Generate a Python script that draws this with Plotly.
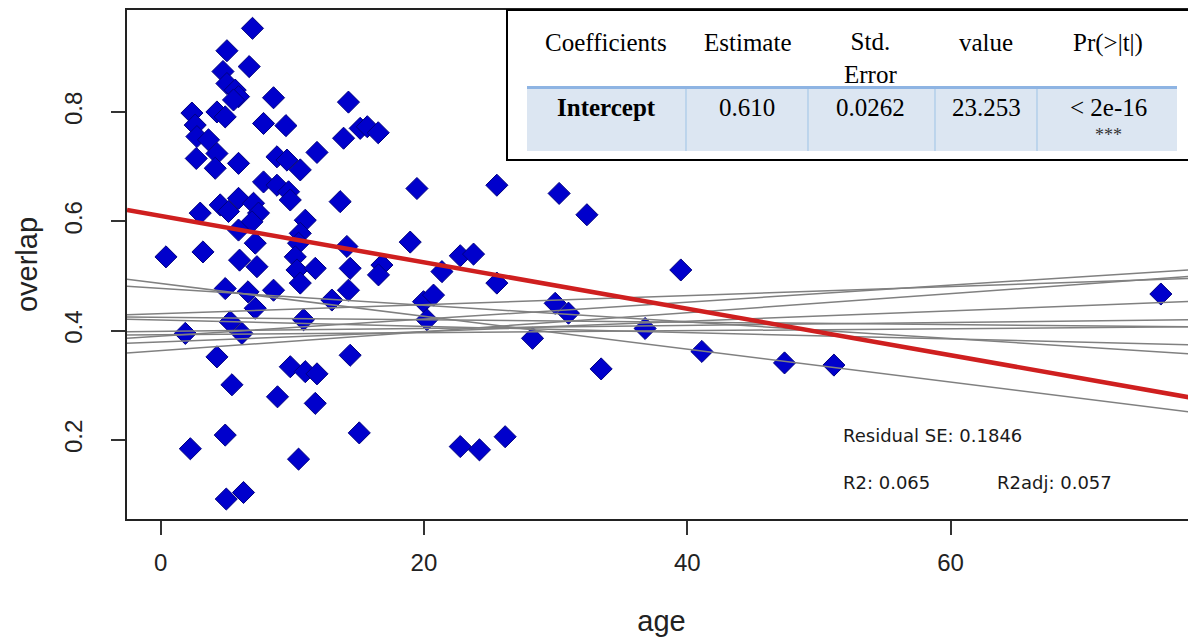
import plotly.graph_objects as go

# scatter data
AGE = [6.98, 5.04, 6.73, 4.74, 5.04, 5.67, 5.92, 5.54, 8.58, 14.27,
       2.38, 4.28, 4.91, 2.63, 7.82, 9.52, 2.76, 3.64, 13.90, 15.16,
       15.70, 2.71, 4.28, 5.92, 4.15, 8.84, 9.60, 11.88, 10.61, 7.82,
       8.84, 9.72, 9.85, 5.92, 4.53, 5.16, 7.06, 7.44, 13.64, 3.01,
       10.99, 10.61, 6.94, 5.92, 7.19, 0.41, 3.22, 6.00, 7.32, 10.48,
       10.23, 10.36, 11.75, 10.61, 14.15, 14.40, 14.27, 4.91, 6.64, 8.58,
       7.19, 13.01, 5.29, 10.86, 1.88, 6.18, 4.28, 14.40, 9.85, 10.99,
       11.88, 5.42, 8.88, 11.75, 15.09, 4.91, 2.26, 10.48, 6.30, 4.99,
       19.47, 25.54, 30.27, 32.38, 18.96, 22.76, 23.77, 16.81, 16.55, 21.37,
       25.54, 39.51, 19.97, 20.73, 29.97, 30.98, 20.23, 36.80, 28.25, 41.11,
       33.46, 22.76, 24.22, 26.17, 47.39, 51.14, 75.97, 16.53]
OVERLAP = [0.953, 0.912, 0.883, 0.874, 0.852, 0.840, 0.828, 0.822, 0.826, 0.818,
           0.798, 0.800, 0.791, 0.776, 0.779, 0.775, 0.755, 0.749, 0.752, 0.770,
           0.773, 0.715, 0.724, 0.706, 0.697, 0.718, 0.712, 0.726, 0.694, 0.672,
           0.666, 0.654, 0.639, 0.642, 0.630, 0.618, 0.633, 0.615, 0.636, 0.615,
           0.602, 0.578, 0.599, 0.584, 0.560, 0.535, 0.544, 0.529, 0.517, 0.560,
           0.535, 0.511, 0.514, 0.487, 0.554, 0.514, 0.474, 0.477, 0.471, 0.474,
           0.441, 0.456, 0.416, 0.420, 0.395, 0.395, 0.352, 0.355, 0.334, 0.325,
           0.321, 0.301, 0.279, 0.267, 0.213, 0.209, 0.184, 0.165, 0.104, 0.092,
           0.660, 0.666, 0.651, 0.612, 0.562, 0.537, 0.540, 0.520, 0.502, 0.508,
           0.487, 0.511, 0.453, 0.465, 0.450, 0.432, 0.420, 0.404, 0.386, 0.362,
           0.330, 0.188, 0.182, 0.206, 0.341, 0.337, 0.467, 0.762]

# fitted line and the grey resampled fits (intercept at age 0, slope per year)
FIT_INTERCEPT = 0.610
FIT_SLOPE = -0.00425
GRAY_INTERCEPT = [0.4863, 0.4771, 0.4311, 0.4244, 0.4195, 0.3987, 0.3925, 0.3900, 0.3794, 0.3634]
GRAY_SLOPE = [-0.003005, -0.001527, 0.000825, -0.000222, -0.000579, 0.000271, 0.000185, 0.001552, 0.000948, 0.001737]

# axes
X_RANGE = [-2.55, 78.64]
Y_RANGE = [0.0555, 0.9865]
X_TICKS = [0, 20, 40, 60]
Y_TICKS = [0.2, 0.4, 0.6, 0.8]

# coefficient table
TABLE_HEADER = ["Coefficients", "Estimate", "Std.<br>Error", "value", "Pr(>|t|)"]
TABLE_ROW = ["<b>Intercept</b>", "0.610", "0.0262", "23.253", "< 2e-16"]
TABLE_SIG = "***"

STATS = ["Residual SE: 0.1846", "R2: 0.065", "R2adj: 0.057"]

# page has an 8px body margin, so the figure is a bit smaller than the window
OFF = 8
FIG_W, FIG_H = 1196 - OFF, 641 - OFF
# plot area in window pixels
L, R, T, B = 127, 1196, 10, 519


def px(x):
    return (x - L) / (R - L)


def py(y):
    return (B - y) / (B - T)


fig = go.Figure()
fig.add_trace(go.Scatter(x=AGE, y=OVERLAP, mode="markers",
                         marker=dict(symbol="diamond", size=17, color="#0000cc",
                                     line=dict(color="#000080", width=1))))
for b0, b1 in zip(GRAY_INTERCEPT, GRAY_SLOPE):
    fig.add_trace(go.Scatter(x=X_RANGE, y=[b0 + b1 * x for x in X_RANGE], mode="lines",
                             line=dict(color="#808080", width=1.5)))
fig.add_trace(go.Scatter(x=X_RANGE, y=[FIT_INTERCEPT + FIT_SLOPE * x for x in X_RANGE], mode="lines",
                         line=dict(color="#cf1f1f", width=4.5)))

# table box and row shading
shapes = [
    dict(type="rect", xref="paper", yref="paper", x0=px(507), x1=px(1189), y0=py(160), y1=py(10),
         line=dict(color="black", width=2), fillcolor="white", layer="above"),
    dict(type="rect", xref="paper", yref="paper", x0=px(527), x1=px(1177), y0=py(151), y1=py(88),
         line=dict(width=0), fillcolor="#dce6f2", layer="above"),
    dict(type="line", xref="paper", yref="paper", x0=px(527), x1=px(1177), y0=py(87.5), y1=py(87.5),
         line=dict(color="#8eb4e3", width=3), layer="above"),
]
for xs in [686, 808, 935, 1037]:
    shapes.append(dict(type="line", xref="paper", yref="paper", x0=px(xs), x1=px(xs), y0=py(151), y1=py(89),
                       line=dict(color="#9dc3e6", width=1), layer="above"))

serif = "Liberation Serif, Times New Roman, serif"
annotations = []
col_centers = [606, 747, 870, 986, 1108]
for cx, txt in zip(col_centers, TABLE_HEADER):
    cy = 58 if "<br>" in txt else 43
    annotations.append(dict(x=px(cx), y=py(cy), xref="paper", yref="paper", text=txt, showarrow=False,
                            xanchor="center", yanchor="middle",
                            font=dict(family=serif, size=25, color="black")))
for cx, txt in zip(col_centers, TABLE_ROW):
    annotations.append(dict(x=px(cx), y=py(107), xref="paper", yref="paper", text=txt, showarrow=False,
                            xanchor="center", yanchor="middle",
                            font=dict(family=serif, size=25, color="black")))
annotations.append(dict(x=px(1108), y=py(135), xref="paper", yref="paper", text=TABLE_SIG, showarrow=False,
                        xanchor="center", yanchor="middle",
                        font=dict(family=serif, size=18, color="#333")))

stat_pos = [(841, 435), (841, 482), (995, 482)]
for (sx, sy), txt in zip(stat_pos, STATS):
    annotations.append(dict(x=px(sx), y=py(sy), xref="paper", yref="paper", text=txt, showarrow=False,
                            xanchor="left", yanchor="middle",
                            font=dict(family="DejaVu Sans, sans-serif", size=18, color="#1a1a1a")))

fig.update_layout(
    width=FIG_W, height=FIG_H,
    margin=dict(l=L - OFF, r=FIG_W - (R - OFF), t=T - OFF, b=FIG_H - (B - OFF)),
    plot_bgcolor="white", paper_bgcolor="white",
    showlegend=False,
    font=dict(family="Liberation Sans, Arial, sans-serif", size=24, color="#222"),
    shapes=shapes, annotations=annotations,
)
fig.update_xaxes(range=X_RANGE, tickvals=X_TICKS, ticks="outside", ticklen=14, tickwidth=1.5,
                 tickcolor="#333", showline=True, linecolor="#222", linewidth=1.5, mirror=True,
                 showgrid=False, zeroline=False, ticklabelstandoff=7,
                 title=dict(text="age", standoff=36))
fig.update_yaxes(range=Y_RANGE, tickvals=Y_TICKS, ticktext=[str(v) for v in Y_TICKS], tickangle=-90,
                 ticks="outside", ticklen=14, tickwidth=1.5, tickcolor="#333",
                 showline=True, linecolor="#222", linewidth=1.5, mirror=False,
                 showgrid=False, zeroline=False, ticklabelstandoff=20,
                 title=dict(text="overlap", standoff=14))

fig.write_html("out.html")
